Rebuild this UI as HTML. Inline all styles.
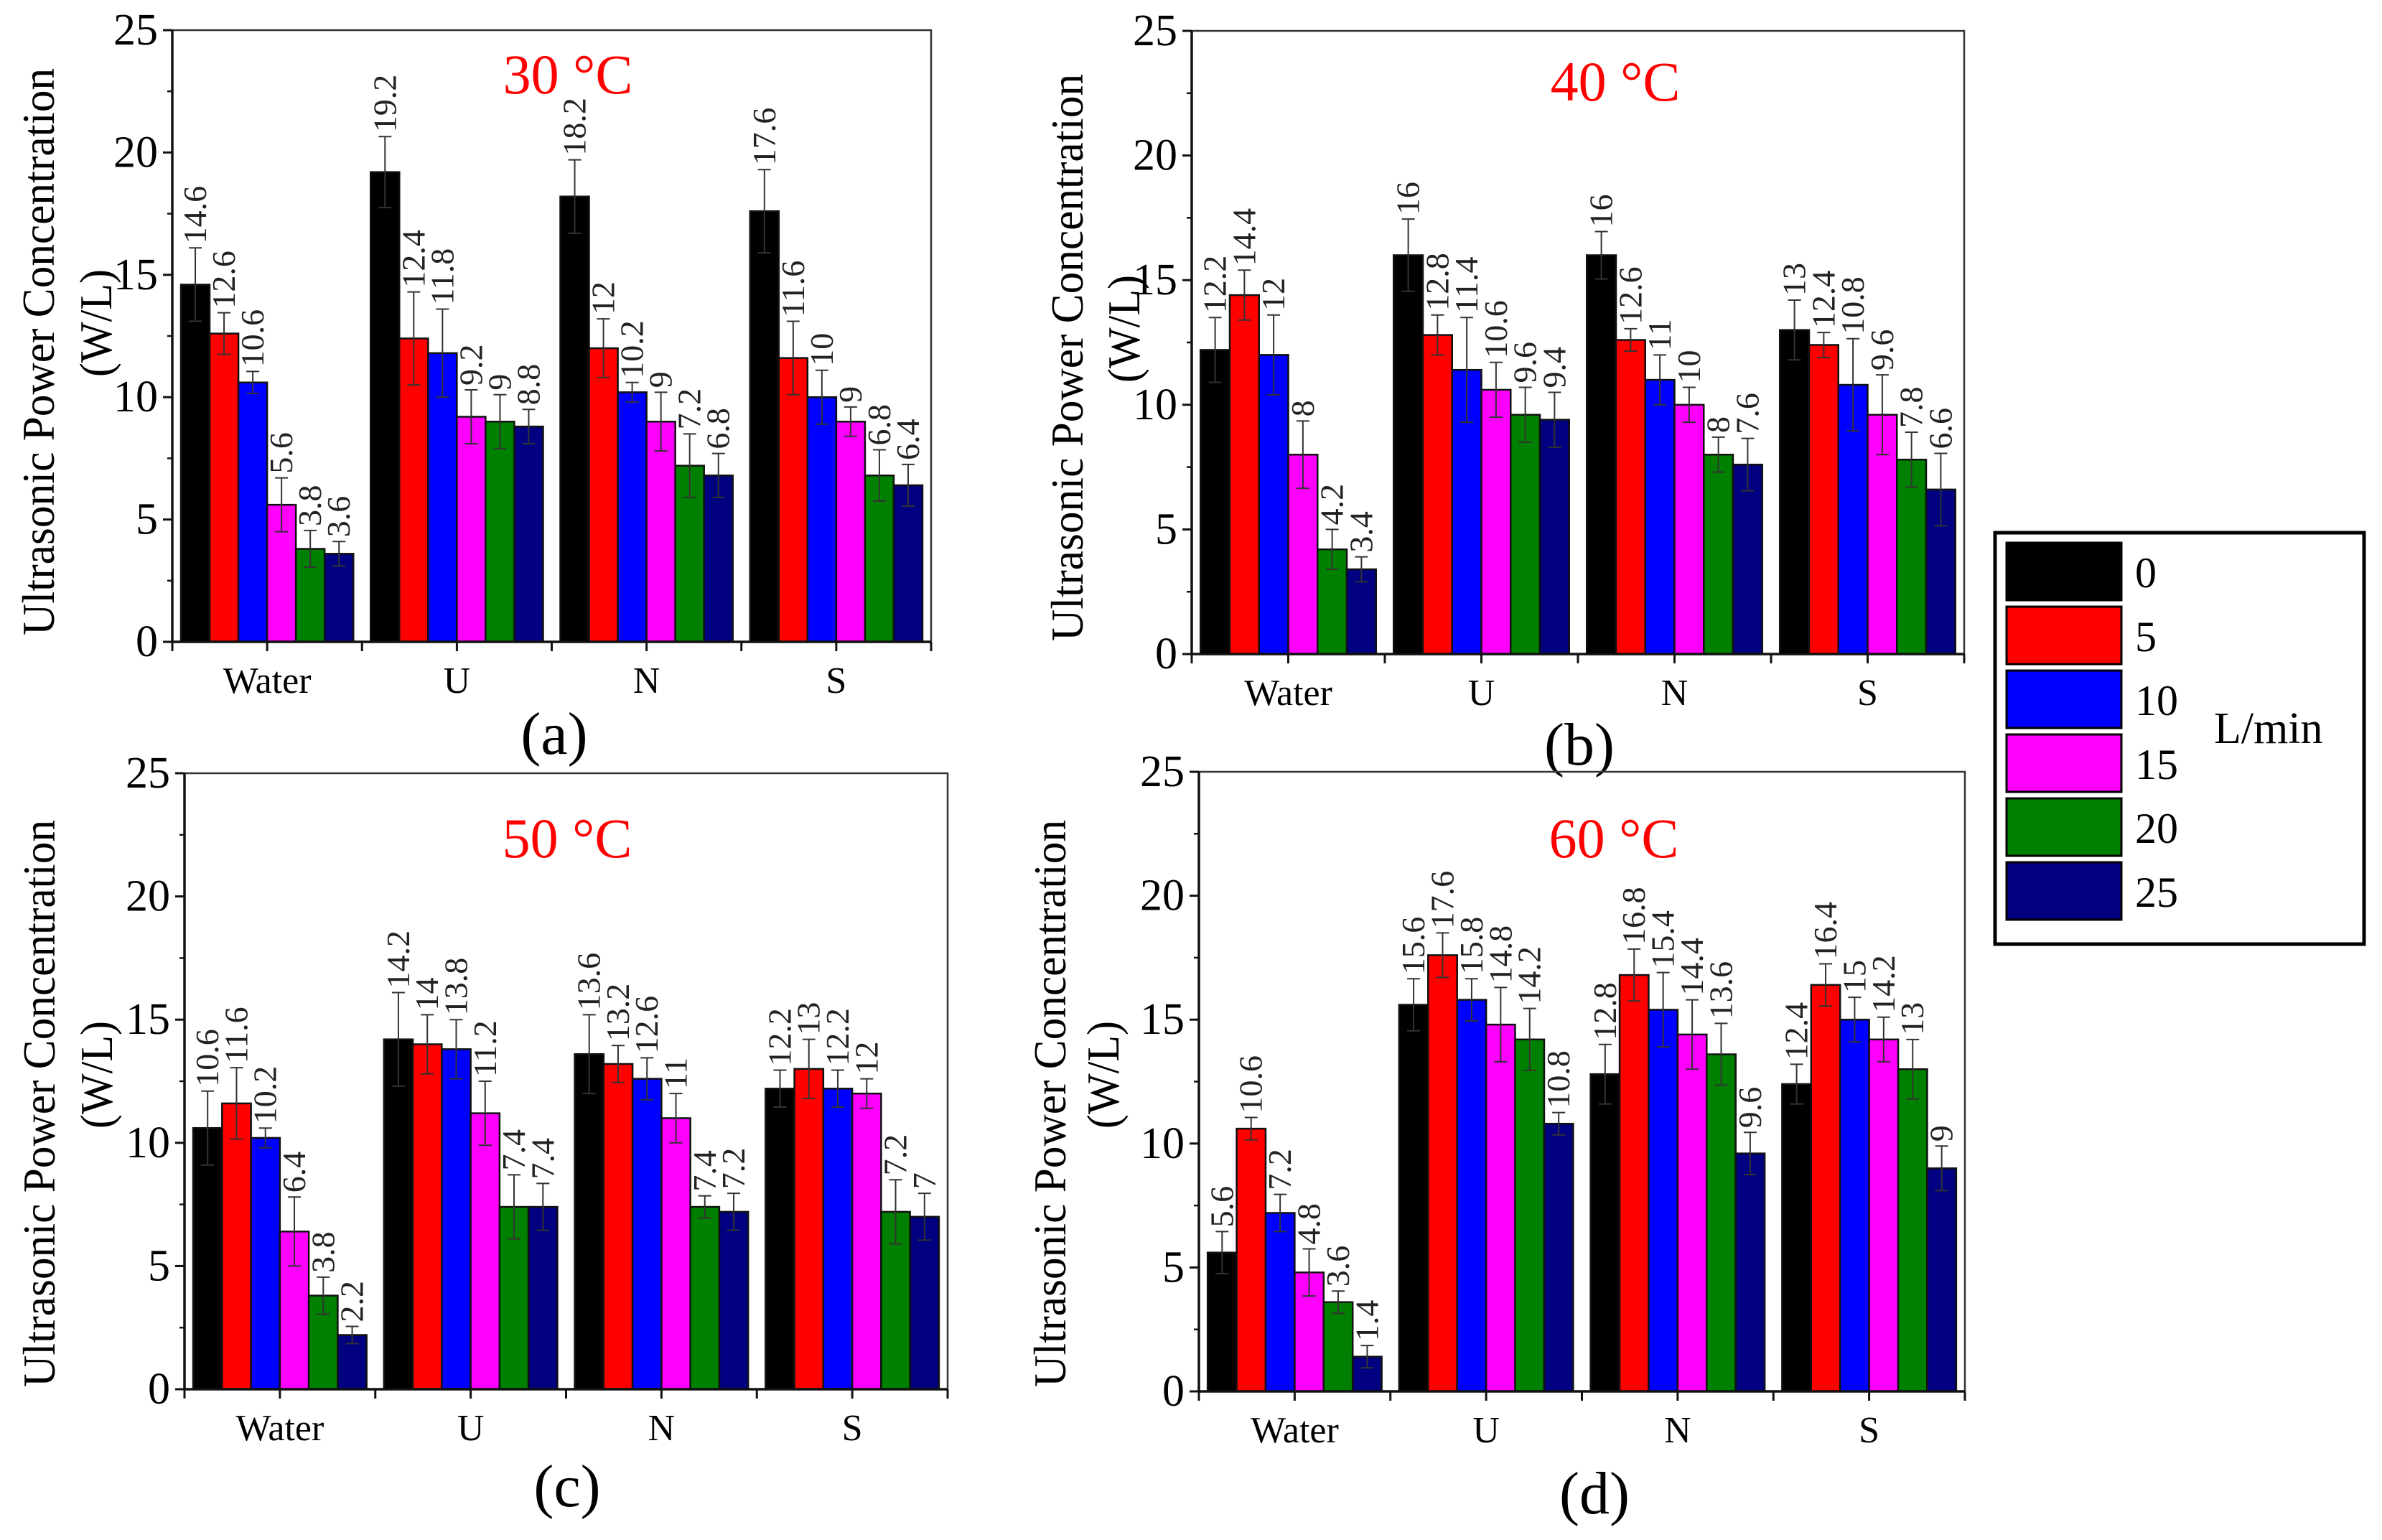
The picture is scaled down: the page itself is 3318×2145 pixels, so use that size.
<!DOCTYPE html>
<html><head><meta charset="utf-8"><style>
html,body{margin:0;padding:0;background:#fff;}
svg{display:block;}
svg text{font-family:"Liberation Serif","DejaVu Serif",serif;}
</style></head><body>
<svg id="chart" xmlns="http://www.w3.org/2000/svg" width="3318" height="2145" viewBox="0 0 3318 2145" font-family="Liberation Serif, serif">
<rect width="3318" height="2145" fill="#fff"/>
<g id="legend">
  <rect x="2779" y="742" width="514" height="573" fill="#fff" stroke="#000" stroke-width="5"/>
  <text x="3084" y="1035" font-size="62">L/min</text>
</g>
</svg>
<script>
const categories = ["Water", "U", "N", "S"];
const flowRates = ["0", "5", "10", "15", "20", "25"];
const colors = ["#000000", "#ff0000", "#0000ff", "#ff00ff", "#008000", "#000080"];
const yTicks = [0, 5, 10, 15, 20, 25];
const titles = ["30 °C", "40 °C", "50 °C", "60 °C"];
const letters = ["(a)", "(b)", "(c)", "(d)"];
// values[panel][category][flow]
const valuesA = [[14.6,12.6,10.6,5.6,3.8,3.6],[19.2,12.4,11.8,9.2,9,8.8],[18.2,12,10.2,9,7.2,6.8],[17.6,11.6,10,9,6.8,6.4]];
const errorsA = [[1.5,0.85,0.45,1.1,0.75,0.5],[1.45,1.9,1.8,1.1,1.1,0.7],[1.5,1.2,0.4,1.2,1.3,0.9],[1.7,1.5,1.1,0.6,1.05,0.85]];
const valuesB = [[12.2,14.4,12,8,4.2,3.4],[16,12.8,11.4,10.6,9.6,9.4],[16,12.6,11,10,8,7.6],[13,12.4,10.8,9.6,7.8,6.6]];
const errorsB = [[1.3,1.0,1.6,1.35,0.8,0.5],[1.45,0.8,2.1,1.1,1.1,1.1],[0.95,0.45,1.0,0.7,0.7,1.05],[1.2,0.5,1.85,1.6,1.1,1.45]];
const valuesC = [[10.6,11.6,10.2,6.4,3.8,2.2],[14.2,14,13.8,11.2,7.4,7.4],[13.6,13.2,12.6,11,7.4,7.2],[12.2,13,12.2,12,7.2,7]];
const errorsC = [[1.5,1.45,0.4,1.4,0.75,0.35],[1.9,1.2,1.2,1.3,1.3,0.95],[1.6,0.75,0.85,1.0,0.45,0.75],[0.75,1.2,0.75,0.6,1.3,0.95]];
const valuesD = [[5.6,10.6,7.2,4.8,3.6,1.4],[15.6,17.6,15.8,14.8,14.2,10.8],[12.8,16.8,15.4,14.4,13.6,9.6],[12.4,16.4,15,14.2,13,9]];
const errorsD = [[0.85,0.45,0.75,0.95,0.45,0.45],[1.05,0.9,0.85,1.5,1.25,0.45],[1.2,1.05,1.5,1.4,1.25,0.85],[0.8,0.85,0.9,0.9,1.2,0.9]];
const allValues = [valuesA, valuesB, valuesC, valuesD];
const allErrors = [errorsA, errorsB, errorsC, errorsD];

const layouts = [
 {x0:240,x1:1297,yt:42,y0:894,tx:791,ty:130,cy:965,lx:772,ly:1050,ya:53,yb:133,yc:490},
 {x0:1660,x1:2736,yt:43,y0:911,tx:2250,ty:140,cy:982,lx:2200,ly:1065,ya:1486,yb:1565,yc:498},
 {x0:257,x1:1320,yt:1077,y0:1935,tx:790,ty:1194,cy:2006,lx:790,ly:2098,ya:54,yb:134,yc:1537},
 {x0:1670,x1:2737,yt:1075,y0:1938,tx:2248,ty:1194,cy:2009,lx:2221,ly:2108,ya:1462,yb:1536,yc:1537}
];
const NS = "http://www.w3.org/2000/svg";
const svg = document.getElementById("chart");
function mk(tag, attrs, parent) {
  const e = document.createElementNS(NS, tag);
  for (const k in attrs) e.setAttribute(k, attrs[k]);
  parent.appendChild(e);
  return e;
}
layouts.forEach((L, p) => {
  const g = mk("g", {}, svg);
  
  
  const yScale = v => L.y0 - (v / 25) * (L.y0 - L.yt);
  const gw = (L.x1 - L.x0) / categories.length;
  const bw = gw * (240 / 264) / flowRates.length;
  const pad = gw * (12 / 264);
  const xBar = (c, f) => L.x0 + c * gw + pad + f * bw;
  categories.forEach((cat, c) => {
    flowRates.forEach((fr, f) => {
      const v = allValues[p][c][f], e = allErrors[p][c][f];
      const x = xBar(c, f);
      const r = mk("rect", {x:x, y:yScale(v), width:bw, height:L.y0 - yScale(v), fill:colors[f], stroke:"#111", "stroke-width":2.5}, g);
      
      
      const cx = x + bw / 2;
      const eb = mk("path", {d:`M${cx},${yScale(v+e)}V${yScale(v-e)}M${cx-9},${yScale(v+e)}H${cx+9}M${cx-9},${yScale(v-e)}H${cx+9}`, stroke:"#333", "stroke-width":2, fill:"none"}, g);
      
      
      const ty = yScale(v + e) - 6;
      const t = mk("text", {x:cx + 15, y:ty, "font-size":46, transform:`rotate(-90 ${cx + 15} ${ty})`, fill:"#222"}, g);
      t.textContent = String(v);
      
      
    });
    const cl = mk("text", {x:L.x0 + (c + 0.5) * gw, y:L.cy, "font-size":52, "text-anchor":"middle"}, g);
    cl.textContent = cat;
    
    
  });
  mk("path", {d:`M${L.x0},${L.yt}H${L.x1}V${L.y0}`, stroke:"#333", "stroke-width":2.5, fill:"none"}, g);
  const ax = mk("path", {d:`M${L.x0},${L.yt}V${L.y0}H${L.x1}`, stroke:"#111", "stroke-width":3.5, fill:"none"}, g);
  
  
  yTicks.forEach(v => {
    const y = yScale(v);
    mk("line", {x1:L.x0 - 13, x2:L.x0, y1:y, y2:y, stroke:"#111", "stroke-width":3}, g);
    if (v < 25) mk("line", {x1:L.x0 - 7, x2:L.x0, y1:yScale(v + 2.5), y2:yScale(v + 2.5), stroke:"#111", "stroke-width":2.5}, g);
    const t = mk("text", {x:L.x0 - 20, y:y + 20, "font-size":62, "text-anchor":"end"}, g);
    t.textContent = String(v);
    
    
  });
  for (let i = 0; i <= categories.length * 2; i++) {
    const x = L.x0 + i * gw / 2;
    mk("line", {x1:x, x2:x, y1:L.y0, y2:L.y0 + 13, stroke:"#111", "stroke-width":3}, g);
  }
  const tt = mk("text", {x:L.tx, y:L.ty, "font-size":78, "text-anchor":"middle", fill:"#ff0000"}, g);
  tt.textContent = titles[p];
  
  
  const lt = mk("text", {x:L.lx, y:L.ly, "font-size":84, "text-anchor":"middle"}, g);
  lt.textContent = letters[p];
  
  
  const y1 = mk("text", {x:L.ya + 22, y:L.yc, "font-size":64, "text-anchor":"middle", textLength:790, lengthAdjust:"spacingAndGlyphs", transform:`rotate(-90 ${L.ya + 22} ${L.yc})`}, g);
  y1.textContent = "Ultrasonic Power Concentration";
  
  
  const y2 = mk("text", {x:L.yb + 22, y:L.yc - 40, "font-size":64, "text-anchor":"middle", textLength:150, lengthAdjust:"spacingAndGlyphs", transform:`rotate(-90 ${L.yb + 22} ${L.yc - 40})`}, g);
  y2.textContent = "(W/L)";
  
  
});
const lg = document.getElementById("legend");
flowRates.forEach((fr, i) => {
  const y = 756 + i * 89;
  const r = mk("rect", {x:2795, y:y, width:160, height:80, fill:colors[i], stroke:"#000", "stroke-width":3}, lg);
  
  
  const t = mk("text", {x:2974, y:y + 62, "font-size":60}, lg);
  t.textContent = fr;
  
  
});
</script>
</body></html>
